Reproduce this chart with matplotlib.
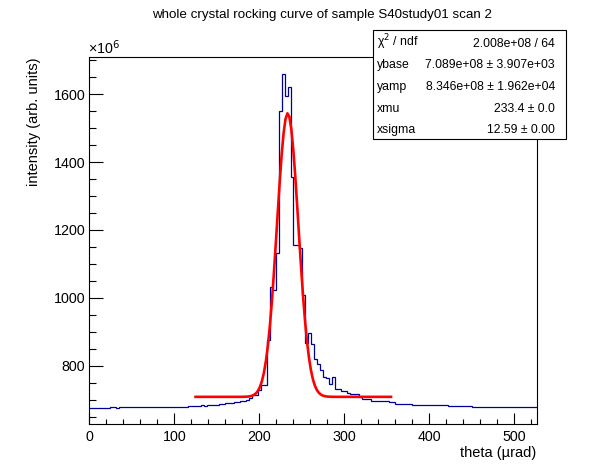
import numpy as np
import matplotlib
matplotlib.use('Agg')
from matplotlib import pyplot as plt
from matplotlib.patches import Rectangle

plt.rcParams['font.family'] = ['Liberation Sans', 'DejaVu Sans']

# histogram (theta in urad, intensity in units of 1e6), equal bins merged
hist_edges = [-1.75, 24.75, 31.75, 35.25, 115.75, 131.75, 135.25, 138.75, 152.75,
              159.75, 170.25, 177.25, 184.25, 187.75, 191.25, 198.25, 201.75, 205.25,
              208.75, 212.25, 215.75, 219.25, 222.75, 226.25, 229.75, 233.25, 236.75,
              240.25, 247.25, 250.75, 254.25, 257.75, 261.25, 264.75, 268.25, 271.75,
              275.25, 278.75, 282.25, 285.75, 289.25, 296.25, 303.25, 306.75, 317.25,
              320.75, 331.25, 352.25, 359.25, 380.25, 422.25, 450.25, 526.75]
hist_values = [677, 679.5, 677, 679.5, 683, 686, 683, 686, 689,
               691, 694, 696, 701, 706, 715, 730, 745,
               745, 877, 1032, 1024, 1132, 1549, 1659, 1593, 1621,
               1356, 1157, 1147, 1008, 867, 897, 863, 819, 807,
               789, 767, 765, 748, 766, 732, 725, 720, 716,
               709, 704, 698, 693, 689, 686, 683, 679.5]

# fit results (gaussian on a flat base)
ybase = 708.9
yamp = 834.6
xmu = 233.4
xsigma = 12.59
fit_range = (125, 355)

stat_names = ['χ$^{2}$ / ndf', 'ybase', 'yamp', 'xmu', 'xsigma']
stat_values = ['2.008e+08 / 64', '7.089e+08 ± 3.907e+03', '8.346e+08 ± 1.962e+04',
               '233.4 ± 0.0', '12.59 ± 0.00']

W, H = 596, 472
fig = plt.figure(figsize=(W / 100, H / 100), dpi=100)
ax = fig.add_axes([89.3 / W, 1 - 424 / H, (536.7 - 89.3) / W, (424 - 57) / H])

ax.stairs(hist_values, hist_edges, color='#000099', lw=0.9, baseline=None)

xf = np.linspace(fit_range[0], fit_range[1], 101)
yf = ybase + yamp * np.exp(-0.5 * ((xf - xmu) / xsigma) ** 2)
ax.plot(xf, yf, color='#ff0000', lw=1.9)

ax.set_xlim(0, 526.4)
ax.set_ylim(629, 1709)
ax.set_xticks(np.arange(0, 501, 100))
ax.set_xticks(np.arange(0, 526, 20), minor=True)
ax.set_yticks(np.arange(800, 1601, 200))
ax.set_yticks(np.arange(650, 1709, 50), minor=True)
ax.tick_params(which='both', direction='in', top=False, right=False, labelsize=10.3, width=0.8)
ax.tick_params(axis='x', which='major', length=7.7, pad=4)
ax.tick_params(axis='x', which='minor', length=3.6)
ax.tick_params(axis='y', which='major', length=10, pad=3)
ax.tick_params(axis='y', which='minor', length=5)
for s in ax.spines.values():
    s.set_linewidth(0.8)

ax.set_xlabel('theta (µrad)', fontsize=10.5, loc='right')
ax.xaxis.set_label_coords(1.0, -0.06)
ax.set_ylabel('intensity (arb. units)', fontsize=10.5, loc='top')
ax.yaxis.set_label_coords(-0.108, 1.0)

fig.text(88 / W, 1 - 54 / H, '×10$^{6}$', fontsize=10.3, va='baseline', ha='left')
fig.text(322 / W, 1 - 15 / H, 'whole crystal rocking curve of sample S40study01 scan 2',
         fontsize=9.6, ha='center', va='center')

# stats box
fig.patches.append(Rectangle((373 / W, 1 - 139 / H), (566 - 373) / W, (139 - 30) / H,
                             transform=fig.transFigure, facecolor='white',
                             edgecolor='black', lw=0.8, zorder=5))
for i, (name, val) in enumerate(zip(stat_names, stat_values)):
    yb = 1 - (46.7 + 21.67 * i) / H
    fig.text(377 / W, yb, name, fontsize=8.8, ha='left', va='baseline', zorder=6)
    fig.text(555 / W, yb, val, fontsize=8.8, ha='right', va='baseline', zorder=6)

fig.savefig('out.png', dpi=100)
